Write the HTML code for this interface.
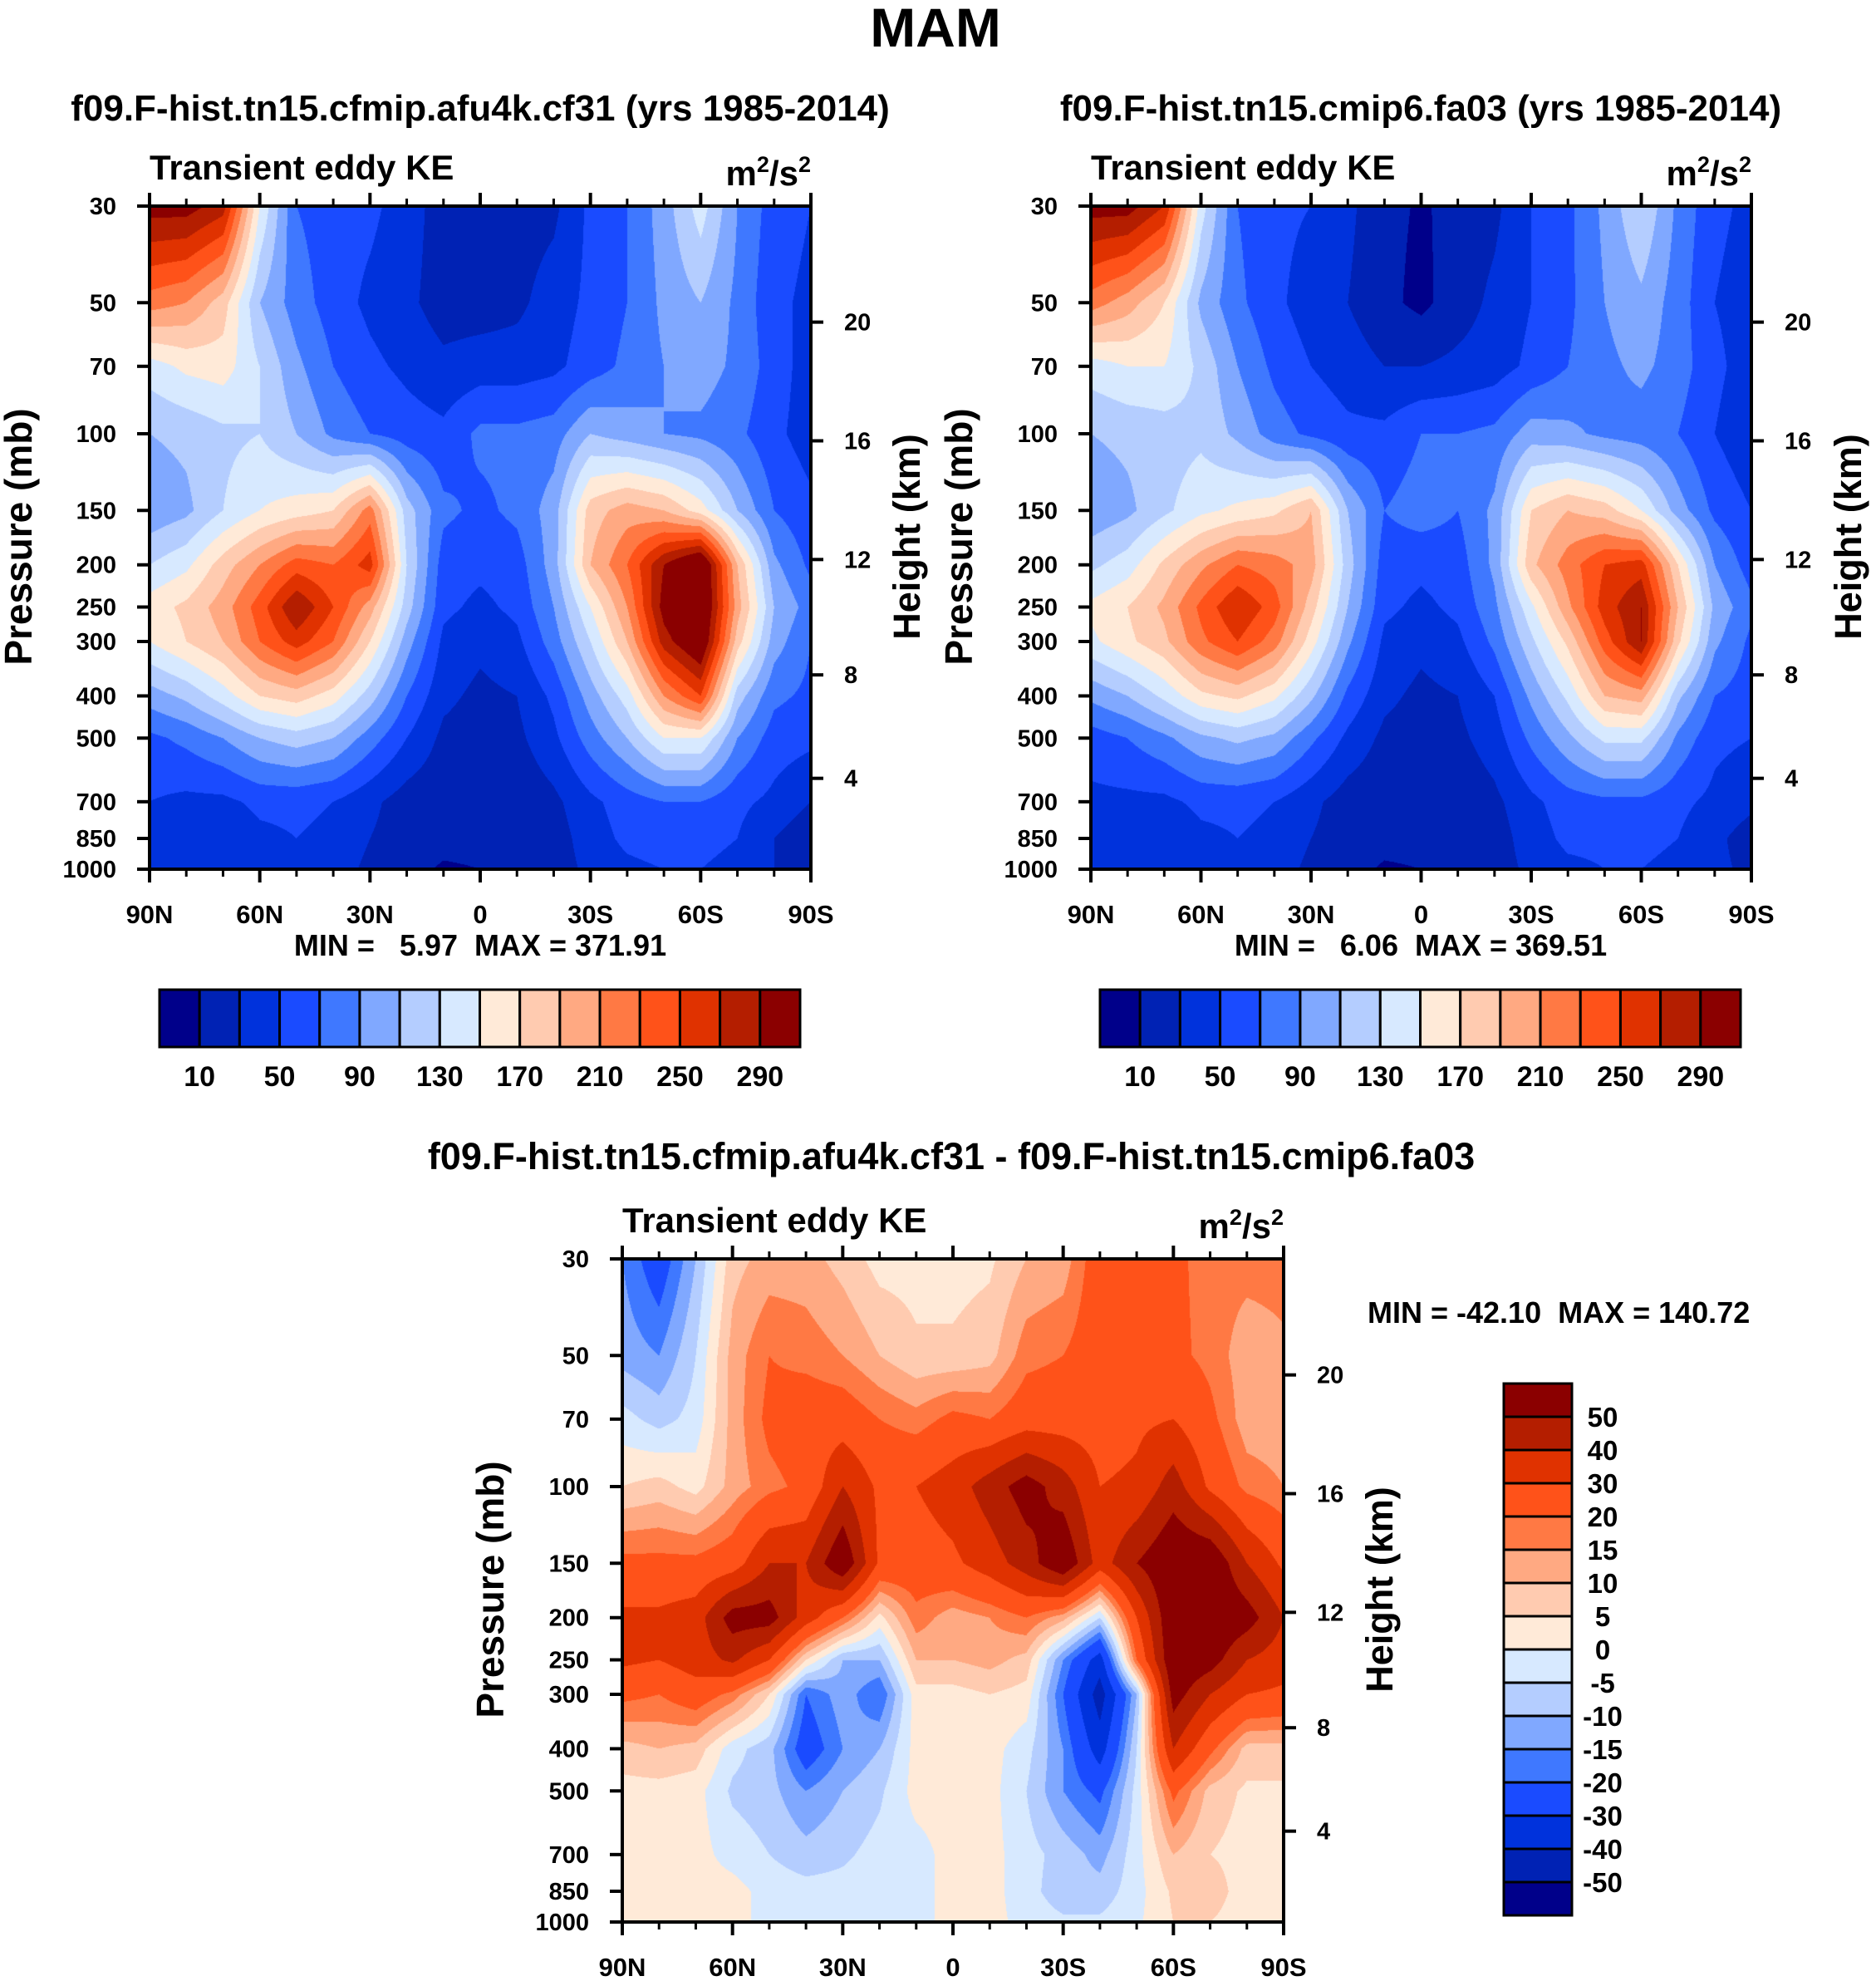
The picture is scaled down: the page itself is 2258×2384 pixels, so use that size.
<!DOCTYPE html>
<html><head><meta charset="utf-8">
<style>
html,body{margin:0;padding:0;background:#fff;}
#wrap{position:relative;width:2258px;height:2384px;overflow:hidden;}
canvas{position:absolute;}
svg{position:absolute;left:0;top:0;}
text{font-family:"Liberation Sans",Arial,sans-serif;font-weight:bold;fill:#000;}
</style></head>
<body>
<div id="wrap">
<canvas id="c1"></canvas>
<canvas id="c2"></canvas>
<canvas id="c3"></canvas>
<svg id="svg" width="2258" height="2384"></svg>
</div>
<script>
const lats = [90,80,70,60,50,40,30,20,10,0,-10,-20,-30,-40,-50,-60,-70,-80,-90];
const levels = [30,50,70,100,150,200,250,300,400,500,700,850,1000];
const latTicks = ['90N','60N','30N','0','30S','60S','90S'];
const presTicks = [30,50,70,100,150,200,250,300,400,500,700,850,1000];
const heightTicks = [4,8,12,16,20];
const heightFrac = [0.137,0.293,0.467,0.646,0.825];
const colors = ['#00008a','#0022b4','#0032dc','#1a4bff','#3f78ff','#80a8ff','#b4cdff','#d7e9ff','#ffead8','#ffcbb0','#ffa982','#ff7944','#ff5219','#e03200','#b41e00','#8b0000'];
const keBounds = [10,30,50,70,90,110,130,150,170,190,210,230,250,270,290];
const keLabels = [10,50,90,130,170,210,250,290];
const diffBounds = [-50,-40,-30,-20,-15,-10,-5,0,5,10,15,20,30,40,50];
const diffLabels = [50,40,30,20,15,10,5,0,-5,-10,-15,-20,-30,-40,-50];

const ke1 = [
[300,300,280,150,70,60,55,40,20,20,20,25,55,70,100,140,90,60,50],
[220,210,180,110,80,60,45,35,20,20,25,40,55,70,95,110,85,55,45],
[140,155,160,130,95,70,55,45,35,40,40,45,60,75,90,100,85,60,40],
[110,115,125,130,110,85,70,60,55,75,75,80,110,100,90,85,75,55,40],
[95,105,130,150,160,170,220,120,75,65,75,100,180,200,190,160,110,70,55],
[130,145,180,210,240,230,260,130,60,55,60,100,190,230,290,330,190,95,65],
[160,175,200,240,290,250,200,120,55,45,55,90,150,210,300,330,200,110,80],
[150,170,190,230,260,230,170,100,45,35,45,80,130,190,280,320,180,100,70],
[100,115,140,170,180,160,120,70,35,25,30,55,100,140,210,250,120,75,65],
[65,75,90,110,120,110,80,50,25,20,25,45,80,110,150,150,90,60,55],
[50,45,45,55,55,50,35,20,15,15,15,25,45,60,70,70,55,45,30],
[40,30,30,45,50,45,30,20,15,15,15,20,40,55,60,55,50,30,15],
[40,30,30,40,45,40,25,15,8,10,15,20,35,45,50,50,45,30,20]];

const ke2 = [
[300,300,270,140,70,55,50,35,15,8,15,25,50,65,95,130,85,55,45],
[220,200,170,105,75,55,40,30,15,5,20,35,50,65,90,105,80,50,40],
[140,150,150,125,90,65,50,40,30,30,35,40,55,70,85,95,80,55,40],
[110,115,120,125,105,80,65,55,55,70,70,75,100,95,85,80,70,50,35],
[95,105,125,145,155,165,190,110,70,80,70,95,170,190,180,150,100,65,50],
[125,140,175,205,230,220,200,120,60,55,60,95,185,220,250,260,170,90,60],
[155,170,195,235,270,240,180,110,55,45,55,85,145,205,260,290,190,105,75],
[145,165,185,225,250,220,160,95,45,35,45,75,125,175,240,290,175,95,65],
[95,110,135,165,175,155,115,65,35,25,30,50,95,135,190,200,115,70,60],
[60,70,85,105,115,105,75,45,25,20,25,40,75,105,135,135,85,55,50],
[45,45,45,55,55,50,35,20,15,15,15,25,45,60,65,65,55,45,35],
[40,30,30,45,50,45,30,20,15,15,15,20,40,55,55,55,50,35,20],
[40,30,30,40,45,40,25,15,8,10,15,20,35,45,50,50,45,35,25]];

const kediff = [
[-15,-25,-10,8,12,12,8,3,3,3,4,10,12,25,25,22,17,17,17],
[-12,-15,-5,12,20,18,15,10,6,6,8,18,20,25,25,22,18,12,14],
[-3,-7,-3,12,22,25,25,20,17,22,20,25,25,25,28,30,22,12,12],
[5,7,3,12,18,22,40,28,30,35,45,55,45,30,32,45,28,18,15],
[22,22,22,25,40,40,60,28,25,28,35,45,60,35,50,60,60,40,28],
[32,32,35,55,55,35,20,3,18,12,15,20,12,-5,30,60,60,55,40],
[32,30,35,42,30,5,-10,-10,10,10,12,8,-15,-35,20,60,55,40,35],
[22,20,25,18,5,-20,-12,-20,3,3,5,3,-20,-45,-10,55,40,30,28],
[8,10,8,-3,-8,-25,-15,-10,2,2,2,-3,-15,-35,-5,40,22,8,8],
[3,3,2,-6,-8,-15,-10,-6,2,2,2,-5,-15,-22,-3,22,8,4,4],
[3,2,2,-2,-5,-8,-6,-3,-2,2,2,-3,-7,-12,-2,10,5,3,1],
[5,2,2,2,-2,-3,-3,-2,-2,2,2,-3,-8,-8,-2,6,8,2,2],
[5,2,2,2,-2,-3,-3,-2,-2,2,2,-2,-4,-4,-1,5,5,2,2]];

const LN30=Math.log(30), LN1000=Math.log(1000);
function yOf(p,y0,y1){return y0+(Math.log(p)-LN30)/(LN1000-LN30)*(y1-y0);}
function xOf(lat,x0,x1){return x0+(90-lat)/180*(x1-x0);}
function hexRGB(h){return [parseInt(h.substr(1,2),16),parseInt(h.substr(3,2),16),parseInt(h.substr(5,2),16)];}
const rgb = colors.map(hexRGB);

function fill(id,data,bounds,x0,x1,y0,y1){
  const cv=document.getElementById(id);
  const W=x1-x0,H=y1-y0;
  cv.width=W;cv.height=H;cv.style.left=x0+'px';cv.style.top=y0+'px';
  const ctx=cv.getContext('2d');
  const img=ctx.createImageData(W,H);
  const lp=levels.map(Math.log);
  for(let py=0;py<H;py++){
    const l=LN30+(py+0.5)/H*(LN1000-LN30);
    let k=0;while(k<levels.length-2&&l>lp[k+1])k++;
    const t=Math.min(1,Math.max(0,(l-lp[k])/(lp[k+1]-lp[k])));
    for(let px=0;px<W;px++){
      const f=(px+0.5)/W*(lats.length-1);
      let i=Math.min(lats.length-2,Math.floor(f));const s=f-i;
      const a=data[k][i]*(1-s)+data[k][i+1]*s;
      const b=data[k+1][i]*(1-s)+data[k+1][i+1]*s;
      const v=a*(1-t)+b*t;
      let c=0;while(c<bounds.length&&v>=bounds[c])c++;
      const o=(py*W+px)*4;const col=rgb[c];
      img.data[o]=col[0];img.data[o+1]=col[1];img.data[o+2]=col[2];img.data[o+3]=255;
    }
  }
  ctx.putImageData(img,0,0);
}

const svg=document.getElementById('svg');
const NS='http://www.w3.org/2000/svg';
function el(tag,attrs,txt){const e=document.createElementNS(NS,tag);for(const k in attrs)e.setAttribute(k,attrs[k]);if(txt!==undefined)e.textContent=txt;svg.appendChild(e);return e;}
function txt(x,y,s,size,anchor,name,rot){
  const a={x:x,y:y,'font-size':size,'text-anchor':anchor||'start'};
  if(rot)a.transform='rotate(-90 '+x+' '+y+')';
  const e=el('text',a,s);e.setAttribute('xml:space','preserve');e.style.whiteSpace='pre';
  
  
  return e;
}

function axes(x0,x1,y0,y1,pref){
  const fr=el('rect',{x:x0,y:y0,width:x1-x0,height:y1-y0,fill:'none',stroke:'#000','stroke-width':4});
  
  
  for(let lat=90;lat>=-90;lat-=10){
    const x=xOf(lat,x0,x1);const major=(lat%30===0);const L=major?16:9;
    const t1=el('line',{x1:x,y1:y0,x2:x,y2:y0-L,stroke:'#000','stroke-width':major?4:3});
    
    
    const t2=el('line',{x1:x,y1:y1,x2:x,y2:y1+L,stroke:'#000','stroke-width':major?4:3});
    
    
  }
  latTicks.forEach((s,i)=>{const x=x0+i/6*(x1-x0);txt(x,y1+65,s,31,'middle',pref+'-x-tick-label');});
  presTicks.forEach(p=>{const y=yOf(p,y0,y1);
    const t=el('line',{x1:x0,y1:y,x2:x0-15,y2:y,stroke:'#000','stroke-width':4});
    
    
    txt(x0-40,y+10,String(p),29,'end',pref+'-y-tick-label');});
  heightTicks.forEach((h,i)=>{const y=y1-heightFrac[i]*(y1-y0);
    const t=el('line',{x1:x1,y1:y,x2:x1+15,y2:y,stroke:'#000','stroke-width':4});
    
    
    txt(x1+40,y+10,String(h),29,'start',pref+'-height-tick-label');});
  txt(x0,y0-32,'Transient eddy KE',42,'start',pref+'-subtitle');
  const u=txt(x1,y0-25,'',42,'end',pref+'-units');
  u.innerHTML='m<tspan dy="-16" font-size="27">2</tspan><tspan dy="16">/s</tspan><tspan dy="-16" font-size="27">2</tspan>';
}

function hbar(x0,x1,y0,y1,pref){
  const w=(x1-x0)/16;
  colors.forEach((c,i)=>{const r=el('rect',{x:x0+i*w,y:y0,width:w,height:y1-y0,fill:c,stroke:'#000','stroke-width':3});
    
    });
  keLabels.forEach(v=>{const b=keBounds.indexOf(v)+1;txt(x0+b*w,y1+47,String(v),34,'middle',pref+'-colorbar-label');});
}

const P1=[180,976,248,1046], P2=[1313,2108,248,1046], P3=[749,1545,1515,2313];
fill('c1',ke1,keBounds,...P1);
fill('c2',ke2,keBounds,...P2);
fill('c3',kediff,diffBounds,...P3);

txt(1126,56,'MAM',66,'middle','main-title');
txt(578,145,'f09.F-hist.tn15.cfmip.afu4k.cf31 (yrs 1985-2014)',44,'middle','panel1-title');
txt(1710,145,'f09.F-hist.tn15.cmip6.fa03 (yrs 1985-2014)',44,'middle','panel2-title');
axes(...P1,'panel1');
axes(...P2,'panel2');
axes(...P3,'diff');
txt(38,646,'Pressure (mb)',46,'middle','panel1-y-axis-title',true);
txt(1107,646,'Height (km)',45,'middle','panel1-right-axis-title',true);
txt(1170,646,'Pressure (mb)',46,'middle','panel2-y-axis-title',true);
txt(2240,646,'Height (km)',45,'middle','panel2-right-axis-title',true);
txt(606,1913,'Pressure (mb)',46,'middle','diff-y-axis-title',true);
txt(1676,1913,'Height (km)',45,'middle','diff-right-axis-title',true);
txt(578,1150,'MIN =   5.97  MAX = 371.91',36,'middle','panel1-minmax');
txt(1710,1150,'MIN =   6.06  MAX = 369.51',36,'middle','panel2-minmax');
hbar(192,963,1191,1260,'panel1');
hbar(1324,2095,1191,1260,'panel2');
txt(1145,1407,'f09.F-hist.tn15.cfmip.afu4k.cf31 - f09.F-hist.tn15.cmip6.fa03',45,'middle','diff-title');
txt(1646,1592,'MIN = -42.10  MAX = 140.72',36,'start','diff-minmax');
(function(){
  const x0=1810,x1=1892,y0=1665,y1=2305,h=(y1-y0)/16;
  for(let i=0;i<16;i++){const r=el('rect',{x:x0,y:y0+i*h,width:x1-x0,height:h,fill:colors[15-i],stroke:'#000','stroke-width':3});
    
    }
  diffLabels.forEach((v,i)=>{txt(1929,y0+(i+1)*h+12,String(v),33,'middle','diff-colorbar-label');});
})();
</script>
</body></html>
